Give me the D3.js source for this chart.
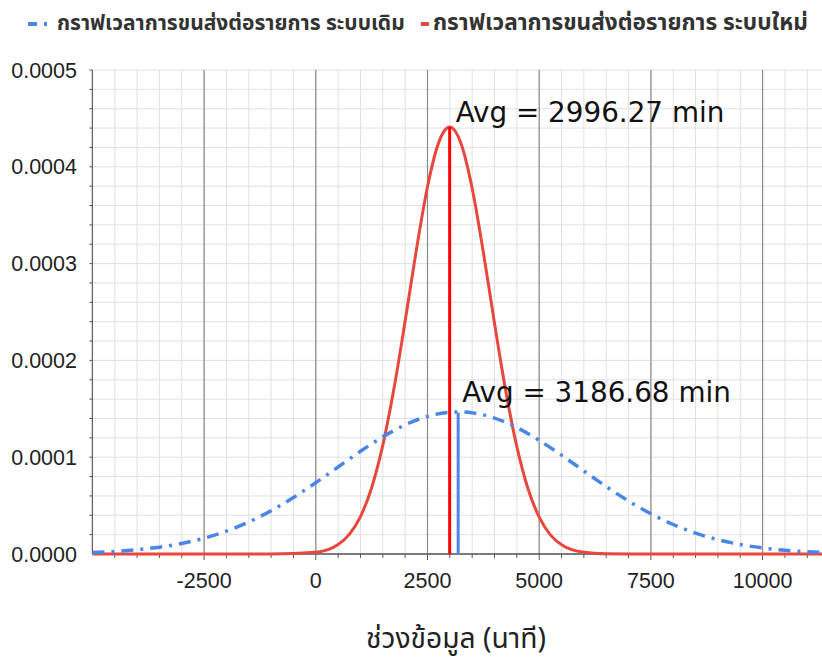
<!DOCTYPE html>
<html>
<head>
<meta charset="utf-8">
<script src="https://cdn.jsdelivr.net/npm/d3@7"></script>
<style>
  html, body { margin: 0; padding: 0; background: #ffffff; }
  svg { display: block; }
</style>
</head>
<body>
<svg id="chart" width="822" height="662"></svg>
<script>
// Series labels
const seriesNames = [
  "กราฟเวลาการขนส่งต่อรายการ ระบบเดิม",
  "กราฟเวลาการขนส่งต่อรายการ ระบบใหม่"
];
const axisTitleX = "ช่วงข้อมูล (นาที)";

// Averages (minutes)
const avgOld = 3186.68;
const avgNew = 2996.27;
const avgOldHeight = 0.000146;
const avgNewHeight = 0.000441;

// Old system density curve (blue, dash-dot)
const oldX = [-5000, -4500, -4000, -3500, -3000, -2500, -2000, -1500, -1000, -500,
  0, 500, 1000, 1500, 2000, 2500, 3000, 3186.68, 3500, 4000, 4500, 5000, 5500,
  6000, 6500, 7000, 7500, 8000, 8500, 9000, 9500, 10000, 10500, 11000, 11500];
const oldY = [0.00000155, 0.00000266, 0.00000441, 0.00000706, 0.00001092, 0.00001634,
  0.00002365, 0.00003305, 0.00004467, 0.00005835, 0.00007368, 0.00008993, 0.0001061,
  0.0001210, 0.0001334, 0.0001422, 0.0001464, 0.0001468, 0.0001458, 0.0001404,
  0.0001306, 0.0001174, 0.0001021, 0.00008578, 0.00006967, 0.00005471, 0.00004153,
  0.00003046, 0.00002160, 0.00001480, 0.00000981, 0.00000628, 0.00000389,
  0.00000233, 0.00000135];

// New system density curve (red)
const newX = [-5000, -1000, 0, 500, 750, 1000, 1250, 1500, 1750, 2000, 2250, 2500,
  2750, 2996.27, 3250, 3500, 3750, 4000, 4250, 4500, 4750, 5000, 5250, 5500, 6000,
  6500, 7000, 11500];
const newY = [0, 0, 0.00000184, 0.00000983, 0.0000203, 0.0000387, 0.0000685,
  0.0001124, 0.0001709, 0.0002406, 0.0003139, 0.0003794, 0.0004250, 0.000441,
  0.0004240, 0.0003777, 0.0003118, 0.0002384, 0.0001690, 0.0001109, 0.0000674,
  0.0000380, 0.0000198, 0.0000096, 0.0000018, 0.0000002, 0, 0];

// Axis ticks
const xTicks = [-2500, 0, 2500, 5000, 7500, 10000];
const yTicks = [0, 0.0001, 0.0002, 0.0003, 0.0004, 0.0005];
const xMinorStep = 500;
const yMinorStep = 0.00002;

const svg = d3.select("#chart");
const plot = { left: 92.4, right: 822, top: 70, bottom: 554 };

const x = d3.scaleLinear().domain([-5000, 11330]).range([plot.left, plot.right]);
const y = d3.scaleLinear().domain([0, 0.0005]).range([plot.bottom, plot.top]);

const blue = "#4a86e8";
const redCurve = "#e8473e";
const redAvg = "#ff0000";

// Minor grid
const xMinor = d3.range(-5000, 11330 + 1, xMinorStep);
const yMinor = d3.range(0, 0.0005 + 1e-9, yMinorStep);

const grid = svg.append("g");
grid.selectAll("line.vminor").data(xMinor).join("line")
  .attr("x1", d => x(d)).attr("x2", d => x(d))
  .attr("y1", plot.top).attr("y2", plot.bottom)
  .attr("stroke", "#e0e0e0").attr("stroke-width", 1);
grid.selectAll("line.hminor").data(yMinor).join("line")
  .attr("x1", plot.left).attr("x2", plot.right)
  .attr("y1", d => y(d)).attr("y2", d => y(d))
  .attr("stroke", "#e0e0e0").attr("stroke-width", 1);
// Major vertical grid at labelled ticks
grid.selectAll("line.vmajor").data(xTicks).join("line")
  .attr("x1", d => x(d)).attr("x2", d => x(d))
  .attr("y1", plot.top).attr("y2", plot.bottom)
  .attr("stroke", "#8a8a8a").attr("stroke-width", 1.2);

// Axes lines
svg.append("line")
  .attr("x1", plot.left).attr("x2", plot.left)
  .attr("y1", plot.top).attr("y2", plot.bottom)
  .attr("stroke", "#666").attr("stroke-width", 1.3);
svg.append("line")
  .attr("x1", plot.left).attr("x2", plot.right)
  .attr("y1", plot.bottom).attr("y2", plot.bottom)
  .attr("stroke", "#555").attr("stroke-width", 1.3);

// Small tick marks
svg.append("g").selectAll("line").data(xMinor.filter(d => d > -5000)).join("line")
  .attr("x1", d => x(d)).attr("x2", d => x(d))
  .attr("y1", plot.bottom).attr("y2", d => plot.bottom + (xTicks.includes(d) ? 6 : 4))
  .attr("stroke", "#555").attr("stroke-width", 1);
svg.append("g").selectAll("line").data(yMinor.filter(d => d > 1e-9)).join("line")
  .attr("x1", plot.left - 3).attr("x2", plot.left)
  .attr("y1", d => y(d)).attr("y2", d => y(d))
  .attr("stroke", "#555").attr("stroke-width", 1);

// Tick labels
const tickFont = "'Liberation Sans', Arial, sans-serif";
svg.append("g").selectAll("text").data(xTicks).join("text")
  .attr("x", d => x(d)).attr("y", 588)
  .attr("text-anchor", "middle")
  .attr("font-family", tickFont).attr("font-size", 21.5).attr("fill", "#222")
  .text(d => d);
svg.append("g").selectAll("text").data(yTicks).join("text")
  .attr("x", 77).attr("y", d => y(d) + 7.5)
  .attr("text-anchor", "end")
  .attr("font-family", tickFont).attr("font-size", 21.5).attr("fill", "#222")
  .text(d => d3.format(".4f")(d));

// Curves
svg.append("clipPath").attr("id", "plotclip")
  .append("rect").attr("x", plot.left).attr("y", plot.top - 10)
  .attr("width", plot.right - plot.left).attr("height", plot.bottom - plot.top + 20);

const lineGen = d3.line().x(d => x(d[0])).y(d => y(d[1])).curve(d3.curveMonotoneX);
const curves = svg.append("g").attr("clip-path", "url(#plotclip)");

curves.append("path")
  .datum(newX.map((v, i) => [v, newY[i]]))
  .attr("d", lineGen)
  .attr("fill", "none").attr("stroke", redCurve).attr("stroke-width", 3);

curves.append("path")
  .datum(oldX.map((v, i) => [v, oldY[i]]))
  .attr("d", lineGen)
  .attr("fill", "none").attr("stroke", blue).attr("stroke-width", 3.5)
  .attr("stroke-dasharray", "12,7,3,7");

// Average markers
svg.append("line")
  .attr("x1", x(avgNew)).attr("x2", x(avgNew))
  .attr("y1", y(0)).attr("y2", y(avgNewHeight))
  .attr("stroke", redAvg).attr("stroke-width", 3);
svg.append("line")
  .attr("x1", x(avgOld)).attr("x2", x(avgOld))
  .attr("y1", y(0)).attr("y2", y(avgOldHeight))
  .attr("stroke", blue).attr("stroke-width", 3);

const avgFont = "'DejaVu Sans', sans-serif";
svg.append("text")
  .attr("x", x(avgNew) + 6).attr("y", y(avgNewHeight) - 5)
  .attr("font-family", avgFont).attr("font-size", 27.8).attr("fill", "#111")
  .text(`Avg = ${avgNew.toFixed(2)} min`);
svg.append("text")
  .attr("x", x(avgOld) + 4).attr("y", y(avgOldHeight) - 11)
  .attr("font-family", avgFont).attr("font-size", 27.8).attr("fill", "#111")
  .text(`Avg = ${avgOld.toFixed(2)} min`);

// Legend
const thaiFont = "'Noto Sans Thai', 'Noto Sans', 'DejaVu Sans', sans-serif";
const legend = svg.append("g");
legend.append("line").attr("x1", 28).attr("x2", 37).attr("y1", 24).attr("y2", 24)
  .attr("stroke", blue).attr("stroke-width", 4);
legend.append("line").attr("x1", 44).attr("x2", 47).attr("y1", 24).attr("y2", 24)
  .attr("stroke", blue).attr("stroke-width", 4);
legend.append("line").attr("x1", 421).attr("x2", 429).attr("y1", 24).attr("y2", 24)
  .attr("stroke", redCurve).attr("stroke-width", 4);

function fitText(sel, target) {
  const w = sel.node().getComputedTextLength();
  if (w > 0) {
    const fs = parseFloat(sel.attr("font-size"));
    sel.attr("font-size", fs * target / w);
  }
}
const lt1 = legend.append("text").attr("x", 57).attr("y", 30)
  .attr("font-family", thaiFont).attr("font-weight", "bold").attr("font-size", 18)
  .attr("fill", "#333").text(seriesNames[0]);
fitText(lt1, 348);
const lt2 = legend.append("text").attr("x", 433).attr("y", 30)
  .attr("font-family", thaiFont).attr("font-weight", "bold").attr("font-size", 18)
  .attr("fill", "#333").text(seriesNames[1]);
fitText(lt2, 375);

// X axis title
const title = svg.append("text")
  .attr("x", 456).attr("y", 648)
  .attr("text-anchor", "middle")
  .attr("font-family", thaiFont).attr("font-size", 23).attr("fill", "#222")
  .text(axisTitleX);
fitText(title, 180);
</script>
</body>
</html>
